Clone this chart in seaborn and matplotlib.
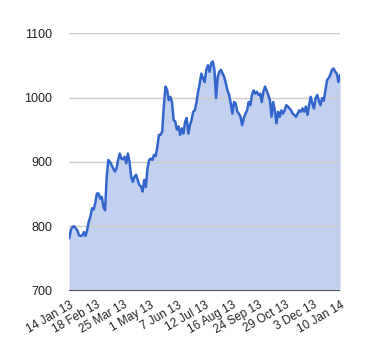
import matplotlib
matplotlib.use("Agg")
import matplotlib.pyplot as plt
import seaborn as sns
import numpy as np
import pandas as pd

# tick labels along the x axis (evenly spaced)
date_labels = ["14 Jan 13", "18 Feb 13", "25 Mar 13", "1 May 13", "7 Jun 13",
               "12 Jul 13", "16 Aug 13", "24 Sep 13", "29 Oct 13", "3 Dec 13",
               "10 Jan 14"]

# closing values (roughly every 1-2 trading days)
values = [
    781, 794, 799, 800, 797, 794, 786, 785, 786, 791, 785, 794,
    807, 815, 828, 826, 836, 851, 851, 843, 846, 830, 825, 877, 903, 900,
    895, 890, 885, 890, 903, 913, 905, 904, 908, 898, 913, 900, 877, 869,
    877, 880, 872, 864, 862, 854, 872, 861, 890, 903, 905, 903, 911, 909,
    923, 942, 942, 947, 986, 1017, 1012, 996, 1001, 993, 965, 963, 950,
    955, 942, 952, 944, 962, 968, 944, 957, 965, 978, 980, 993, 1009, 1022,
    1037, 1030, 1024, 1043, 1050, 1040, 1053, 1056, 1043, 999, 1032, 1040,
    1043, 1037, 1032, 1022, 1011, 1004, 991, 975, 993, 991, 978, 975, 970,
    957, 968, 975, 980, 993, 988, 1004, 1011, 1006, 1009, 1004, 1006, 993,
    1009, 1017, 1011, 1004, 996, 970, 993, 980, 960, 978, 970, 980, 975,
    980, 988, 986, 983, 980, 975, 973, 970, 975, 980, 978, 983, 978, 986,
    973, 988, 1001, 991, 983, 999, 1004, 995, 988, 999, 995, 1011, 1027,
    1030, 1035, 1043, 1045, 1040, 1037, 1024, 1035,
]

y_ticks = [700, 800, 900, 1000, 1100]

df = pd.DataFrame({"i": np.arange(len(values)), "value": values})

sns.set_style("white")
plt.rcParams['font.family'] = ['Liberation Sans', 'DejaVu Sans']

fig = plt.figure(figsize=(3.8, 3.6), dpi=100)
ax = fig.add_axes([0.182, 0.1925, 0.713, 0.7155])

line_color = "#3366cc"
ax.fill_between(df["i"], 700, df["value"], color="#c2d1f0", lw=0, zorder=1)
sns.lineplot(data=df, x="i", y="value", ax=ax, color=line_color, lw=1.8, zorder=3)

ax.set_xlim(0, len(values) - 1)
ax.set_ylim(700, 1100)
ax.set_yticks(y_ticks)
ax.set_yticklabels([str(v) for v in y_ticks], fontsize=9, color="#222222")
for v in y_ticks[1:]:
    ax.axhline(v, color="#cccccc", lw=1, zorder=2)
ax.axhline(700, color="#333333", lw=1.2, zorder=4)

pos = np.linspace(0, len(values) - 1, len(date_labels))
ax.set_xticks(pos)
ax.set_xticklabels(date_labels, rotation=30, ha="right", rotation_mode="anchor",
                   fontsize=8.5, color="#222222")

ax.tick_params(axis="both", length=0)
ax.tick_params(axis="y", pad=12)
ax.tick_params(axis="x", pad=6)
ax.set_xlabel("")
ax.set_ylabel("")
for s in ax.spines.values():
    s.set_visible(False)

fig.savefig("out.png", dpi=100)
